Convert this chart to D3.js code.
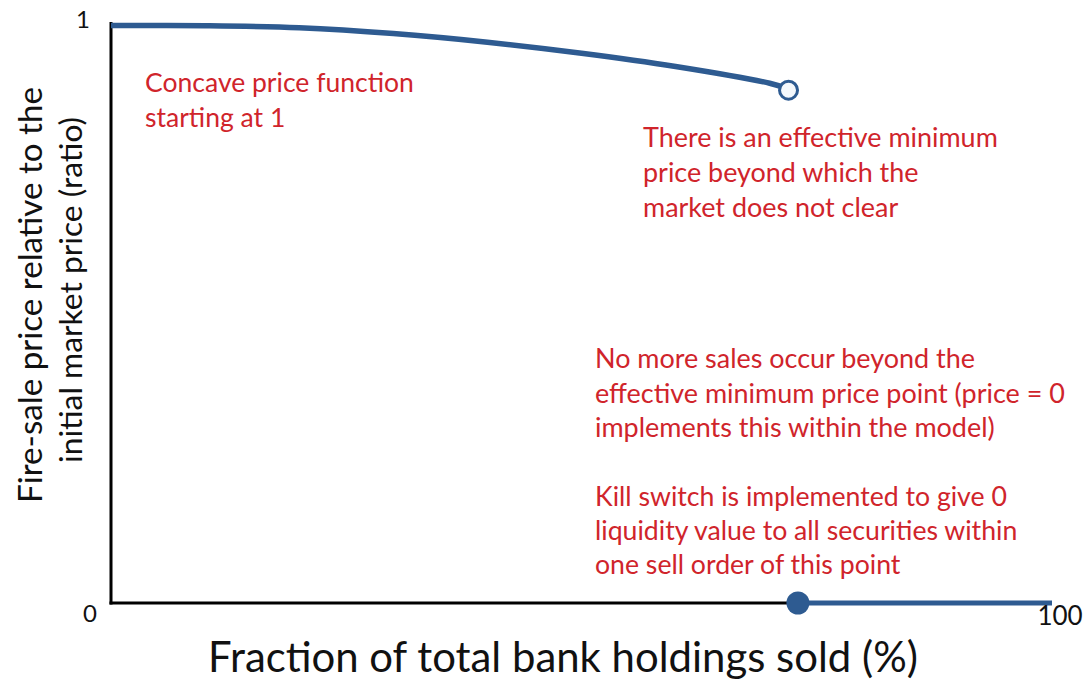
<!DOCTYPE html>
<html><head><meta charset="utf-8">
<script src="https://cdn.jsdelivr.net/npm/d3@7"></script>
<style>html,body{margin:0;padding:0;background:#fff;} svg{display:block;}</style>
</head><body>
<svg id="chart" width="1087" height="682"></svg>
<script>
// ---- data ----
const curveX = [0, 10, 20, 30, 40, 50, 60, 70, 72];
const curveY = [1.0, 0.9995, 0.996, 0.986, 0.971, 0.952, 0.929, 0.900, 0.890];
const openPoint = [72, 0.888];
const zeroSegmentX = [73, 100];
const zeroSegmentY = [0, 0];
const yTickLabels = ["0", "1"];
const xTickLabels = ["100"];
const xTitle = "Fraction of total bank holdings sold (%)";
const yTitleLines = ["Fire-sale price relative to the", "initial market price (ratio)"];
const notes = [
  ["Concave price function", "starting at 1"],
  ["There is an effective minimum", "price beyond which the", "market does not clear"],
  ["No more sales occur beyond the", "effective minimum price point (price = 0", "implements this within the model)"],
  ["Kill switch is implemented to give 0", "liquidity value to all securities within", "one sell order of this point"]
];

const svg = d3.select("#chart");
const FONT = "Lato, 'Open Sans', sans-serif";
const BLUE = "#2e5b91";
const RED = "#d0242b";

const x = d3.scaleLinear().domain([0, 100]).range([111, 1052]);
const y = d3.scaleLinear().domain([0, 1]).range([603, 25.5]);

function fit(sel, target, base) {
  sel.attr("font-size", base);
  const w = sel.node().getComputedTextLength();
  return base * target / w;
}

// axes
svg.append("line").attr("x1", x(0)).attr("x2", x(0)).attr("y1", 22).attr("y2", y(0) + 1.5)
  .attr("stroke", "#000").attr("stroke-width", 3);
svg.append("line").attr("x1", x(0) - 1.5).attr("x2", x(zeroSegmentX[0])).attr("y1", y(0)).attr("y2", y(0))
  .attr("stroke", "#000").attr("stroke-width", 3);

// curve
const pts = curveX.map((d, i) => [d, curveY[i]]);
svg.append("path").datum(pts)
  .attr("d", d3.line().x(d => x(d[0])).y(d => y(d[1])).curve(d3.curveCatmullRom.alpha(0.5)))
  .attr("fill", "none").attr("stroke", BLUE).attr("stroke-width", 5.5).attr("stroke-linecap", "butt");

// zero segment
const zpts = zeroSegmentX.map((d, i) => [d, zeroSegmentY[i]]);
svg.append("path").datum(zpts)
  .attr("d", d3.line().x(d => x(d[0])).y(d => y(d[1])))
  .attr("fill", "none").attr("stroke", BLUE).attr("stroke-width", 5);

// markers
svg.append("circle").attr("cx", x(openPoint[0])).attr("cy", y(openPoint[1])).attr("r", 9)
  .attr("fill", "#f4f8fc").attr("stroke", BLUE).attr("stroke-width", 3);
svg.append("circle").attr("cx", x(zeroSegmentX[0])).attr("cy", y(zeroSegmentY[0])).attr("r", 11.5)
  .attr("fill", BLUE);

// tick labels
svg.append("text").text(yTickLabels[1]).attr("x", 83).attr("y", 28).attr("text-anchor", "middle")
  .attr("font-family", FONT).attr("font-size", 24).attr("fill", "#111");
svg.append("text").text(yTickLabels[0]).attr("x", 90).attr("y", 622).attr("text-anchor", "middle")
  .attr("font-family", FONT).attr("font-size", 24).attr("fill", "#111");
svg.append("text").text(xTickLabels[0]).attr("x", 1060).attr("y", 625).attr("text-anchor", "middle")
  .attr("font-family", FONT).attr("font-size", 26).attr("fill", "#111");

// x title
const xt = svg.append("text").text(xTitle).attr("x", 563).attr("y", 672).attr("text-anchor", "middle")
  .attr("font-family", FONT).attr("fill", "#111");
xt.attr("font-size", fit(xt, 710, 36));

// y title
const yPos = [[42, 295, 416], [82, 290, 346]];
yTitleLines.forEach((t, i) => {
  const el = svg.append("text").text(t)
    .attr("transform", `translate(${yPos[i][0]},${yPos[i][1]}) rotate(-90)`)
    .attr("text-anchor", "middle").attr("font-family", FONT).attr("fill", "#111");
  el.attr("font-size", fit(el, yPos[i][2], 32));
});

// annotations
const noteCfg = [
  {x: 145, ys: [92, 127], fitLine: 0, w: 269},
  {x: 643, ys: [147, 182, 217], fitLine: 0, w: 355},
  {x: 595, ys: [368, 403, 437], fitLine: 1, w: 470},
  {x: 595, ys: [506, 540, 574], fitLine: 0, w: 412}
];
notes.forEach((lines, k) => {
  const c = noteCfg[k];
  const probe = svg.append("text").text(lines[c.fitLine]).attr("font-family", FONT);
  const size = fit(probe, c.w, 26);
  probe.remove();
  lines.forEach((t, i) => {
    svg.append("text").text(t).attr("x", c.x).attr("y", c.ys[i])
      .attr("font-family", FONT).attr("font-size", size).attr("fill", RED);
  });
});
</script>
</body></html>
